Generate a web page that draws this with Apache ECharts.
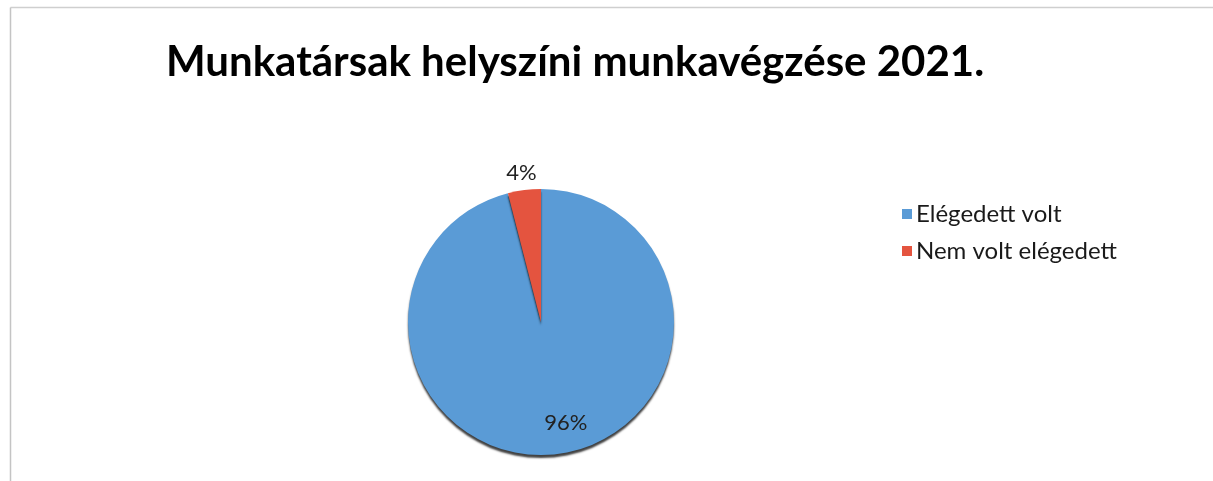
<!DOCTYPE html>
<html>
<head>
<meta charset="utf-8">
<script src="https://cdn.jsdelivr.net/npm/echarts@6/dist/echarts.min.js"></script>
<style>
  html, body { margin: 0; padding: 0; background: #ffffff; overflow: hidden; }
  #chart { width: 1213px; height: 481px; }
</style>
</head>
<body>
<div id="chart"></div>
<script>
// Survey answers: share of staff satisfied with on-site work
const titleText = 'Munkatársak helyszíni munkavégzése 2021.';
const categories = ['Elégedett volt', 'Nem volt elégedett'];
const values = [96, 4];
const colors = ['#5A9BD6', '#E4543F'];

const chart = echarts.init(document.getElementById('chart'), null, { renderer: 'canvas' });

const pieData = categories.map((name, i) => ({
  name: name,
  value: values[i],
  itemStyle: { color: colors[i] },
  label: i === 0
    ? { position: 'inside', offset: [16, 32] }
    : { position: 'outside', offset: [19, -3] },
  labelLine: { show: false, length: 14, length2: 0 }
}));

chart.setOption({
  backgroundColor: '#ffffff',
  animation: false,
  title: {
    text: titleText,
    left: 161,
    top: 36,
    textStyle: {
      fontFamily: 'Lato',
      fontWeight: 'bold',
      fontSize: 42,
      color: '#000000'
    }
  },
  legend: {
    orient: 'vertical',
    left: 897,
    top: 197,
    itemWidth: 10,
    itemHeight: 10,
    itemGap: 13,
    icon: 'rect',
    data: categories,
    textStyle: {
      fontFamily: 'Lato',
      fontSize: 24,
      color: '#1a1a1a',
      padding: [0, 0, 0, -1]
    }
  },
  // chart area frame: only the top and left edges fall inside the view
  graphic: [
    {
      type: 'line',
      shape: { x1: 10.5, y1: 7.5, x2: 1213, y2: 7.5 },
      style: { stroke: '#cfcfcf', lineWidth: 1.5 },
      silent: true
    },
    {
      type: 'line',
      shape: { x1: 10.5, y1: 7.5, x2: 10.5, y2: 481 },
      style: { stroke: '#c4c4c4', lineWidth: 1.5 },
      silent: true
    }
  ],
  series: [{
    type: 'pie',
    center: [541, 322],
    radius: 133,
    startAngle: 90,
    clockwise: true,
    avoidLabelOverlap: false,
    itemStyle: {
      borderWidth: 0,
      shadowColor: 'rgba(0,0,0,0.75)',
      shadowBlur: 2,
      shadowOffsetY: 3
    },
    label: {
      formatter: '{d}%',
      fontFamily: 'Lato',
      fontSize: 22,
      color: '#222222'
    },
    emphasis: { disabled: true },
    data: pieData
  }]
});
</script>
</body>
</html>
